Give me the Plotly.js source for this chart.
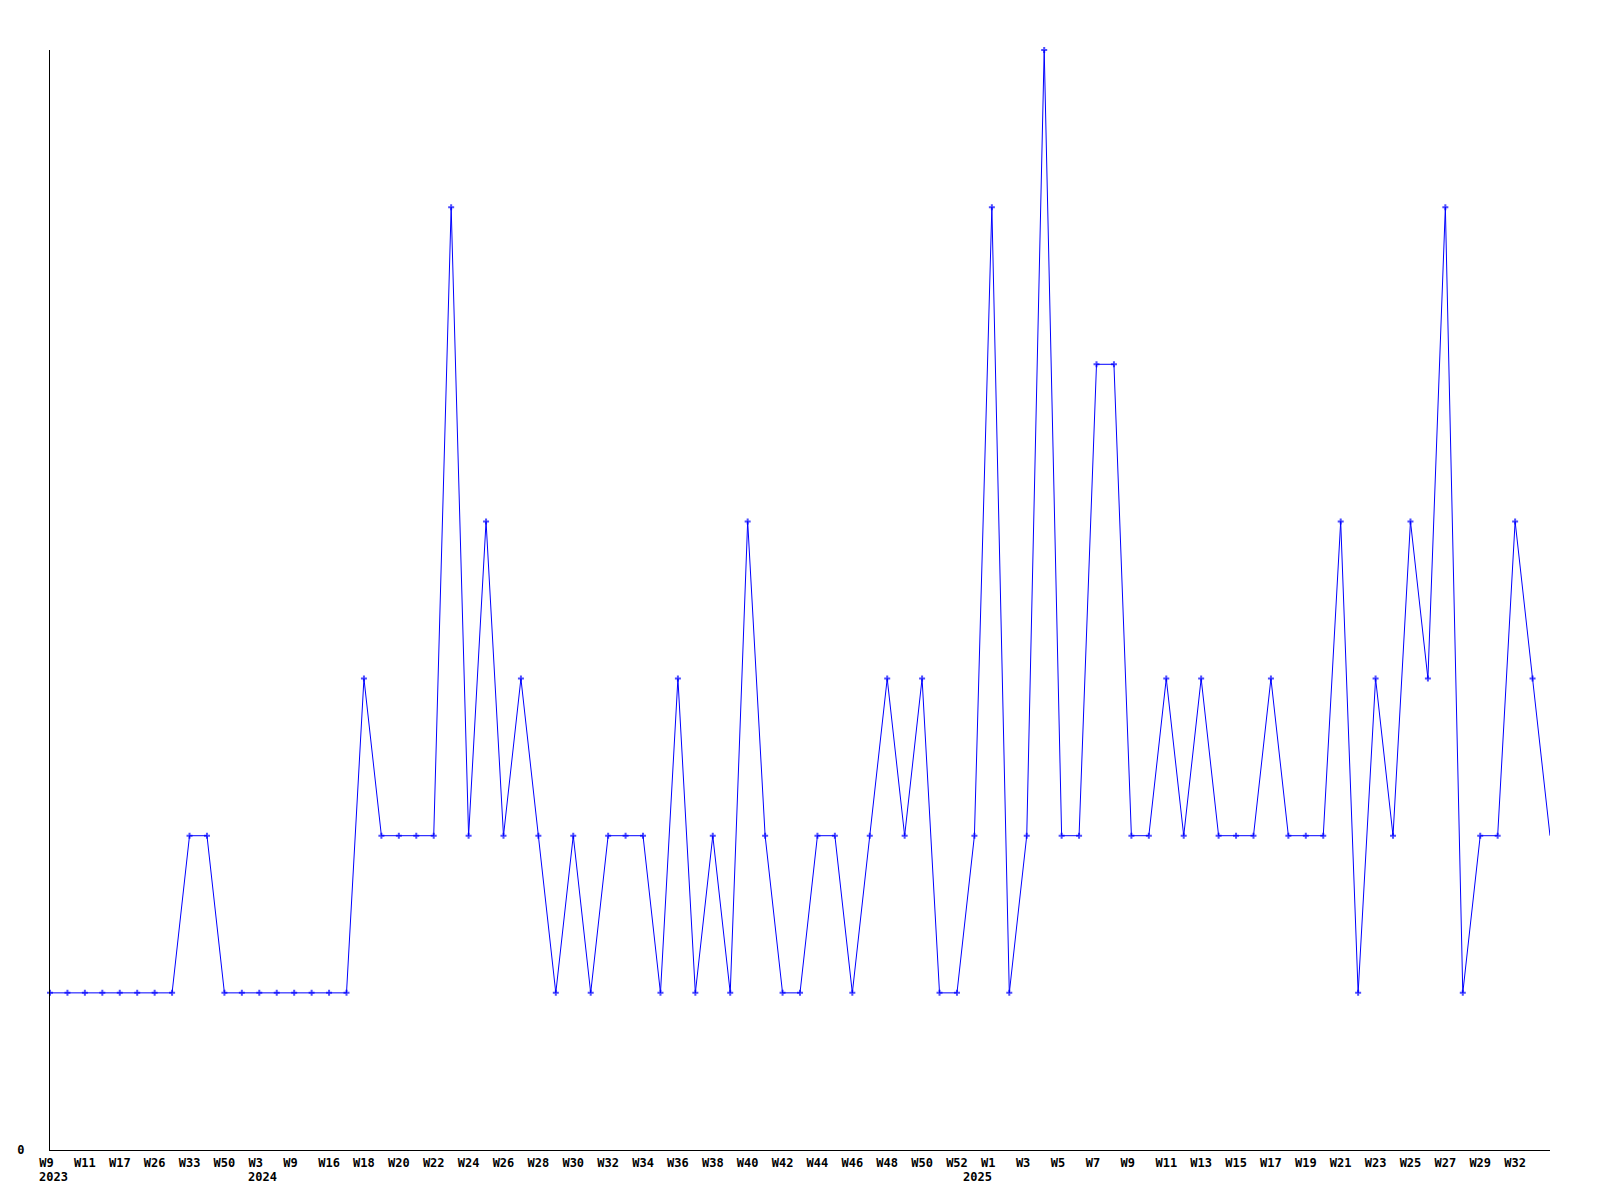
<!DOCTYPE html>
<html>
<head>
<meta charset="utf-8">
<script src="https://cdn.plot.ly/plotly-3.0.1.min.js"></script>
<style>
  html, body { margin: 0; padding: 0; background: #ffffff; }
  #chart { width: 1600px; height: 1200px; }
</style>
</head>
<body>
<div id="chart"></div>
<script>
// Week categories (one per plotted point)
const weeks = [
  "2023-W09","2023-W10","2023-W11","2023-W14","2023-W17","2023-W22","2023-W26","2023-W30",
  "2023-W33","2023-W40","2023-W50","2023-W52",
  "2024-W03","2024-W06","2024-W09","2024-W12","2024-W16","2024-W17","2024-W18","2024-W19",
  "2024-W20","2024-W21","2024-W22","2024-W23","2024-W24","2024-W25","2024-W26","2024-W27",
  "2024-W28","2024-W29","2024-W30","2024-W31","2024-W32","2024-W33","2024-W34","2024-W35",
  "2024-W36","2024-W37","2024-W38","2024-W39","2024-W40","2024-W41","2024-W42","2024-W43",
  "2024-W44","2024-W45","2024-W46","2024-W47","2024-W48","2024-W49","2024-W50","2024-W51",
  "2024-W52",
  "2025-W00","2025-W01","2025-W02","2025-W03","2025-W04","2025-W05","2025-W06","2025-W07",
  "2025-W08","2025-W09","2025-W10","2025-W11","2025-W12","2025-W13","2025-W14","2025-W15",
  "2025-W16","2025-W17","2025-W18","2025-W19","2025-W20","2025-W21","2025-W22","2025-W23",
  "2025-W24","2025-W25","2025-W26","2025-W27","2025-W28","2025-W29","2025-W30","2025-W32",
  "2025-W33","2025-W34"
];

// Values per week
const counts = [
  1,1,1,1,1,1,1,1,
  2,2,
  1,1,1,1,1,1,1,1,
  3,2,2,2,2,6,
  2,4,2,3,2,1,2,1,2,2,2,1,3,1,2,1,4,2,1,1,2,2,1,
  2,3,2,3,1,1,2,6,1,2,7,2,2,5,5,2,2,3,2,3,2,
  2,2,3,2,2,2,4,1,3,2,4,3,6,1,2,2,4,3,2
];

// Labelled ticks (every other point)
const tickWeeks = [
  "2023-W09","2023-W11","2023-W17","2023-W26","2023-W33","2023-W50",
  "2024-W03","2024-W09","2024-W16","2024-W18","2024-W20","2024-W22","2024-W24","2024-W26",
  "2024-W28","2024-W30","2024-W32","2024-W34","2024-W36","2024-W38","2024-W40","2024-W42",
  "2024-W44","2024-W46","2024-W48","2024-W50","2024-W52",
  "2025-W01","2025-W03","2025-W05","2025-W07","2025-W09","2025-W11","2025-W13","2025-W15",
  "2025-W17","2025-W19","2025-W21","2025-W23","2025-W25","2025-W27","2025-W29","2025-W32"
];
const tickLabels = [
  "W9","W11","W17","W26","W33","W50",
  "W3","W9","W16","W18","W20","W22","W24","W26",
  "W28","W30","W32","W34","W36","W38","W40","W42",
  "W44","W46","W48","W50","W52",
  "W1","W3","W5","W7","W9","W11","W13","W15",
  "W17","W19","W21","W23","W25","W27","W29","W32"
];

// Year markers (first week of each year)
const yearWeeks = ["2023-W09", "2024-W03", "2025-W00"];
const yearLabels = ["2023", "2024", "2025"];

const yMax = 7;

// labels are left-aligned at the point: pad to a fixed width in the monospace font
const padLabel = s => s + '\u00a0'.repeat(Math.max(0, 3 - s.length));

const markerSizes = counts.map((_, i) => (i === counts.length - 1 ? 0 : 5));

const trace = {
  x: weeks,
  y: counts,
  type: 'scatter',
  mode: 'lines+markers',
  line: { color: '#0000ff', width: 1 },
  marker: { color: '#0000ff', symbol: 'cross', size: markerSizes, line: { width: 0 } },
  hoverinfo: 'x+y',
  cliponaxis: false
};

const tickFont = { family: '"DejaVu Sans Mono", "Liberation Mono", monospace', size: 12, color: '#000000', weight: 'bold' };

const yearAnnotations = yearWeeks.map((w, i) => ({
  x: w,
  xref: 'x',
  y: 0,
  yref: 'paper',
  text: yearLabels[i],
  showarrow: false,
  xanchor: 'left',
  yanchor: 'middle',
  xshift: -12,
  yshift: -27,
  font: tickFont,
  borderpad: 0
}));

const layout = {
  width: 1600,
  height: 1200,
  margin: { l: 50, r: 50, t: 50, b: 50, pad: 0 },
  paper_bgcolor: '#ffffff',
  plot_bgcolor: '#ffffff',
  showlegend: false,
  xaxis: {
    type: 'category',
    categoryorder: 'array',
    categoryarray: weeks,
    range: [0, weeks.length - 1],
    tickmode: 'array',
    tickvals: tickWeeks,
    ticktext: tickLabels.map(padLabel),
    ticks: '',
    showgrid: false,
    zeroline: false,
    showline: true,
    linecolor: '#000000',
    linewidth: 1,
    tickfont: tickFont,
    tickangle: 0,
    ticklabelstandoff: 2
  },
  yaxis: {
    range: [0, yMax],
    tickmode: 'array',
    tickvals: [0],
    ticktext: ['0'],
    ticks: '',
    showgrid: false,
    zeroline: false,
    showline: true,
    linecolor: '#000000',
    linewidth: 1,
    tickfont: tickFont,
    ticklabelstandoff: 22
  },
  annotations: yearAnnotations
};

Plotly.newPlot('chart', [trace], layout, { displayModeBar: false, staticPlot: true });
</script>
</body>
</html>
